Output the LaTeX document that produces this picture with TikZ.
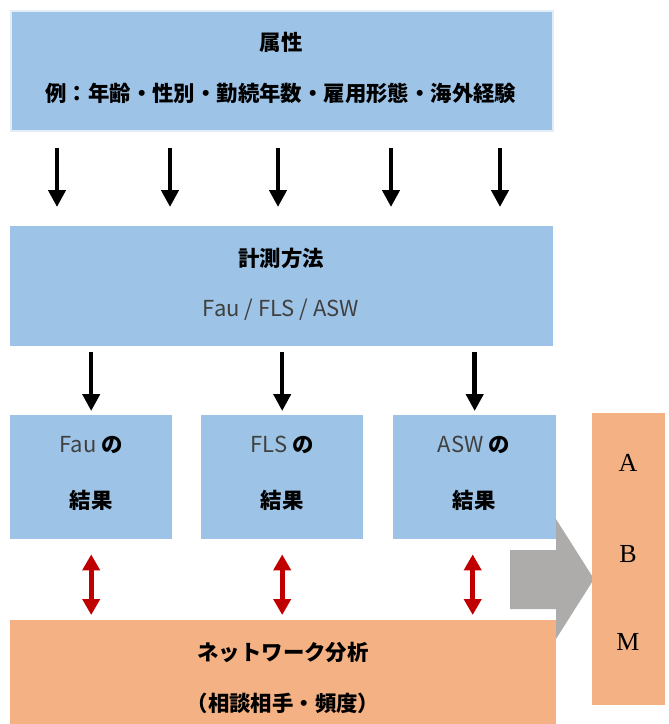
\documentclass[tikz,border=0pt]{standalone}
\usepackage{fontspec}
\setmainfont{Noto Sans CJK JP}
\newfontfamily\serifabm{Liberation Serif}
\usetikzlibrary{arrows.meta}
\definecolor{boxblue}{HTML}{9DC3E6}
\definecolor{boxorange}{HTML}{F4B183}
\definecolor{arrgray}{HTML}{AEABAB}
\definecolor{arrred}{HTML}{C00000}
\definecolor{txtgray}{HTML}{404040}
\tikzset{
  bluebox/.style={rectangle, fill=boxblue, draw=none, inner sep=0pt, anchor=north west},
  orangebox/.style={rectangle, fill=boxorange, draw=none, inner sep=0pt, anchor=north west},
  jtxt/.style={font=\fontsize{21.4}{24}\selectfont\bfseries, inner sep=0pt},
  ltxt/.style={font=\fontsize{22}{24}\selectfont, text=txtgray, inner sep=0pt},
  abmtxt/.style={font=\fontsize{26}{30}\selectfont\serifabm, inner sep=0pt},
  blkarrow/.style={line width=4.5pt, -{Triangle[width=17pt,length=17pt]}},
  redarrow/.style={draw=arrred, line width=5pt, {Triangle[width=17pt,length=16pt]}-{Triangle[width=17pt,length=16pt]}},
}
\begin{document}
\begin{tikzpicture}[x=1pt,y=-1pt]
\useasboundingbox (0,0) rectangle (669,724);
% gray big arrow
\fill[arrgray] (510,550) -- (556,550) -- (556,519) -- (594,579) -- (556,639) -- (556,609) -- (510,609) -- cycle;
% boxes
\node[bluebox, draw=white!70!boxblue, line width=1.5pt, minimum width=542pt, minimum height=120pt] (attr) at (10,10) {};
\node[bluebox, minimum width=543pt, minimum height=120pt] (meth) at (10,226) {};
\node[bluebox, minimum width=162pt, minimum height=124pt] (rfau) at (10,415) {};
\node[bluebox, minimum width=162pt, minimum height=124pt] (rfls) at (201,415) {};
\node[bluebox, minimum width=163pt, minimum height=124pt] (rasw) at (393,415) {};
\node[orangebox, minimum width=546pt, minimum height=110pt] (net) at (10,620) {};
\node[orangebox, minimum width=73pt, minimum height=292pt] (abm) at (592,413) {};
% texts
\node[jtxt] (t1) at (281,42) {属性};
\node[jtxt] (t2) at (281,93) {例：年齢・性別・勤続年数・雇用形態・海外経験};
\node[jtxt] (t3) at (281,258) {計測方法};
\node[ltxt] (t4) at (281,310) {Fau / FLS / ASW};
\node[inner sep=0pt] (t5) at (91,445) {\fontsize{22}{24}\selectfont{\color{txtgray}Fau} \fontsize{21.4}{24}\selectfont\bfseries の};
\node[jtxt] (t6) at (91,500) {結果};
\node[inner sep=0pt] (t7) at (282,445) {\fontsize{22}{24}\selectfont{\color{txtgray}FLS} \fontsize{21.4}{24}\selectfont\bfseries の};
\node[jtxt] (t8) at (282,500) {結果};
\node[inner sep=0pt] (t9) at (474,445) {\fontsize{22}{24}\selectfont{\color{txtgray}ASW} \fontsize{21.4}{24}\selectfont\bfseries の};
\node[jtxt] (t10) at (474,500) {結果};
\node[jtxt] (t11) at (283,652) {ネットワーク分析};
\node[jtxt] (t12) at (283,703) {（相談相手・頻度）};
\node[abmtxt] (ta) at (628,463) {A};
\node[abmtxt] (tb) at (628,554) {B};
\node[abmtxt] (tm) at (628,642) {M};
% black arrows attr -> meth
\foreach \x in {47,160,268,381,490}{
  \draw[blkarrow] ([shift={(\x,16)}]attr.south west) -- ([shift={(\x,-19)}]meth.north west);
}
% black arrows meth -> results
\draw[blkarrow] ([shift={(0,6)}]meth.south -| rfau.north) -- ([shift={(0,-4)}]rfau.north);
\draw[blkarrow] ([shift={(0,6)}]meth.south -| rfls.north) -- ([shift={(0,-4)}]rfls.north);
\draw[blkarrow] ([shift={(0,6)}]meth.south -| rasw.north) -- ([shift={(0,-4)}]rasw.north);
% red double arrows
\draw[redarrow] ([shift={(0,15)}]rfau.south) -- ([shift={(0,-5)}]rfau.south |- net.north);
\draw[redarrow] ([shift={(0,15)}]rfls.south) -- ([shift={(0,-5)}]rfls.south |- net.north);
\draw[redarrow] ([shift={(-2,15)}]rasw.south) -- ([shift={(-2,-5)}]rasw.south |- net.north);
\end{tikzpicture}
\end{document}
